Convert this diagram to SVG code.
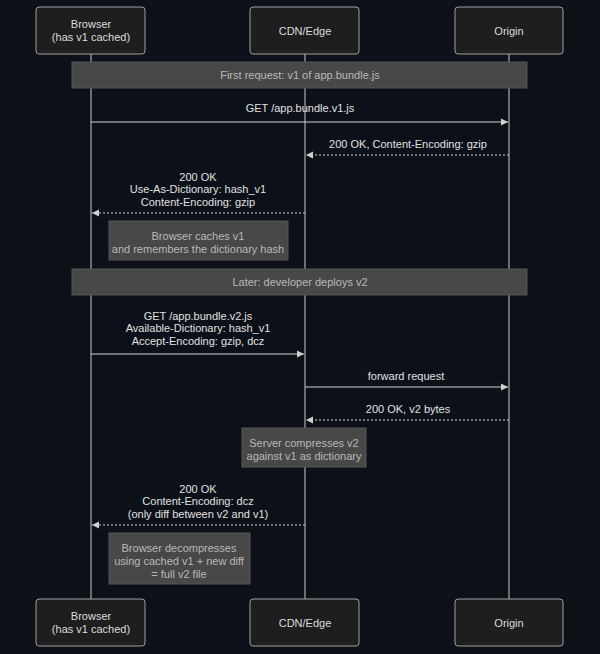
<svg xmlns="http://www.w3.org/2000/svg" width="600" height="654" viewBox="0 0 600 654">
<style>
text{font-family:"Liberation Sans",Arial,sans-serif;font-size:11px;text-anchor:middle}
.actor rect{fill:#1e1e1e;stroke:#a0a0a0;stroke-width:1}
.actor text{fill:#dcdcdc}
.life{stroke:#c8c8c8;stroke-width:1}
.note rect{fill:#484848;stroke:#555;stroke-width:1}
.note text{fill:#b8b8b8}
.msg{stroke:#d0d0d0;stroke-width:1;fill:none}
.dash{stroke-dasharray:2,2}
.lbl{fill:#e0e0e0}
</style>
<defs>
<marker id="ah" markerWidth="8" markerHeight="8" refX="7" refY="4" orient="auto" markerUnits="userSpaceOnUse"><path d="M0,0.5 L7,4 L0,7.5z" fill="#d0d0d0"/></marker>
</defs>
<rect width="600" height="654" fill="#0c1018"/>
<g id="lifelines">
<line class="life" x1="91" y1="54" x2="91" y2="599"/>
<line class="life" x1="305" y1="54" x2="305" y2="599"/>
<line class="life" x1="509" y1="54" x2="509" y2="599"/>
</g>
<g id="note-first" class="note"><rect x="72" y="62" width="455" height="26"/><text x="300" y="79">First request: v1 of app.bundle.js</text></g>
<g id="note-later" class="note"><rect x="72" y="269" width="455" height="26"/><text x="300" y="286">Later: developer deploys v2</text></g>
<g id="note-cache" class="note"><rect x="109" y="221" width="179" height="39"/><text x="198" y="240">Browser caches v1</text><text x="198" y="253">and remembers the dictionary hash</text></g>
<g id="note-server" class="note"><rect x="242" y="428" width="124" height="39"/><text x="304" y="447">Server compresses v2</text><text x="304" y="460">against v1 as dictionary</text></g>
<g id="note-decomp" class="note"><rect x="109" y="533" width="141" height="51"/><text x="179" y="552">Browser decompresses</text><text x="179" y="565">using cached v1 + new diff</text><text x="179" y="578">= full v2 file</text></g>
<g id="connectors">
<line class="msg" x1="91" y1="122" x2="508" y2="122" marker-end="url(#ah)"/>
<text class="lbl" x="300" y="112">GET /app.bundle.v1.js</text>
<line class="msg dash" x1="509" y1="155" x2="306" y2="155" marker-end="url(#ah)"/>
<text class="lbl" x="408" y="148">200 OK, Content-Encoding: gzip</text>
<line class="msg dash" x1="305" y1="213" x2="92" y2="213" marker-end="url(#ah)"/>
<text class="lbl" x="198" y="181">200 OK</text><text class="lbl" x="198" y="193">Use-As-Dictionary: hash_v1</text><text class="lbl" x="198" y="206">Content-Encoding: gzip</text>
<line class="msg" x1="91" y1="354" x2="304" y2="354" marker-end="url(#ah)"/>
<text class="lbl" x="198" y="320">GET /app.bundle.v2.js</text><text class="lbl" x="198" y="332">Available-Dictionary: hash_v1</text><text class="lbl" x="198" y="345">Accept-Encoding: gzip, dcz</text>
<line class="msg" x1="305" y1="387" x2="508" y2="387" marker-end="url(#ah)"/>
<text class="lbl" x="406" y="380">forward request</text>
<line class="msg dash" x1="509" y1="420" x2="306" y2="420" marker-end="url(#ah)"/>
<text class="lbl" x="408" y="413">200 OK, v2 bytes</text>
<line class="msg dash" x1="305" y1="525" x2="92" y2="525" marker-end="url(#ah)"/>
<text class="lbl" x="198" y="493">200 OK</text><text class="lbl" x="198" y="505">Content-Encoding: dcz</text><text class="lbl" x="198" y="518">(only diff between v2 and v1)</text>
</g>
<g id="browser-top" class="actor"><rect x="36" y="7" width="109" height="47" rx="3"/><text x="91" y="28">Browser</text><text x="91" y="41">(has v1 cached)</text></g>
<g id="cdn-top" class="actor"><rect x="250" y="7" width="109" height="47" rx="3"/><text x="305" y="35">CDN/Edge</text></g>
<g id="origin-top" class="actor"><rect x="455" y="7" width="108" height="47" rx="3"/><text x="509" y="35">Origin</text></g>
<g id="browser-bottom" class="actor"><rect x="36" y="599" width="109" height="47" rx="3"/><text x="91" y="620">Browser</text><text x="91" y="633">(has v1 cached)</text></g>
<g id="cdn-bottom" class="actor"><rect x="250" y="599" width="109" height="47" rx="3"/><text x="305" y="627">CDN/Edge</text></g>
<g id="origin-bottom" class="actor"><rect x="455" y="599" width="108" height="47" rx="3"/><text x="509" y="627">Origin</text></g>
</svg>
